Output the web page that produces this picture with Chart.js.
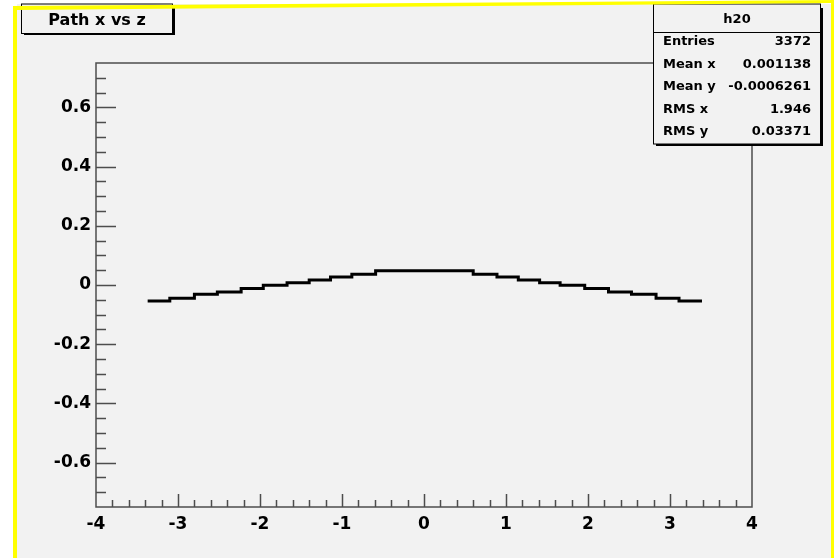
<!DOCTYPE html>
<html>
<head>
<meta charset="utf-8">
<script src="https://cdn.jsdelivr.net/npm/chart.js@4.4.1/dist/chart.umd.min.js"></script>
<style>
  html, body { margin: 0; padding: 0; background: #fff; }
  canvas { display: block; }
</style>
</head>
<body>
<canvas id="c" width="834" height="558"></canvas>
<script>
// z positions where the path changes level, and the x level held on each step
const stepEdges = [-3.37, -3.10, -2.80, -2.52, -2.23, -1.96, -1.67, -1.40, -1.14, -0.88, -0.59,
                   0.60, 0.89, 1.15, 1.41, 1.66, 1.96, 2.25, 2.53, 2.83, 3.11, 3.39];
const stepLevels = [-0.054, -0.045, -0.031, -0.024, -0.012, -0.001, 0.008, 0.017, 0.027, 0.036,
                    0.048, 0.036, 0.027, 0.017, 0.008, -0.001, -0.012, -0.024, -0.031, -0.045, -0.054];

const xTicks = [-4, -3, -2, -1, 0, 1, 2, 3, 4];
const xTickLabels = ['-4', '-3', '-2', '-1', '0', '1', '2', '3', '4'];
const yTicks = [-0.6, -0.4, -0.2, 0, 0.2, 0.4, 0.6];
const yTickLabels = ['-0.6', '-0.4', '-0.2', '0', '0.2', '0.4', '0.6'];

const titleText = 'Path x vs z';
const statsName = 'h20';
const statsLabels = ['Entries', 'Mean x', 'Mean y', 'RMS x', 'RMS y'];
const statsValues = ['3372', '0.001138', '-0.0006261', '1.946', '0.03371'];

// each step level starts at its edge and holds until the next one
const points = stepLevels.map((y, i) => ({x: stepEdges[i], y: y}));
points.push({x: stepEdges[stepEdges.length - 1], y: stepLevels[stepLevels.length - 1]});

const FONT = '"DejaVu Sans", sans-serif';

// ROOT style frame: inward ticks, title box, stats box, yellow border
const rootFrame = {
  id: 'rootFrame',
  beforeDraw(chart) {
    const ctx = chart.ctx;
    ctx.save();
    ctx.fillStyle = '#ffffff';
    ctx.fillRect(0, 0, chart.width, chart.height);
    ctx.fillStyle = '#f2f2f2';
    ctx.fillRect(17, 4, 814, 554);
    ctx.restore();
  },
  afterDraw(chart) {
    const ctx = chart.ctx;
    const a = chart.chartArea;
    const sx = chart.scales.x, sy = chart.scales.y;
    ctx.save();

    ctx.strokeStyle = '#4d4d4d';
    ctx.lineWidth = 1.5;
    ctx.strokeRect(a.left, a.top, a.right - a.left, a.bottom - a.top);

    ctx.beginPath();
    for (let i = -19; i <= 19; i++) {
      const px = Math.round(sx.getPixelForValue(i * 0.2)) + 0.5;
      const len = i % 5 === 0 ? 13 : 7;
      ctx.moveTo(px, a.bottom);
      ctx.lineTo(px, a.bottom - len);
    }
    for (let i = -14; i <= 14; i++) {
      const py = Math.round(sy.getPixelForValue(i * 0.05)) + 0.5;
      const len = i % 4 === 0 ? 20 : 10;
      ctx.moveTo(a.left, py);
      ctx.lineTo(a.left + len, py);
    }
    ctx.stroke();

    // title box
    ctx.fillStyle = '#000';
    ctx.fillRect(24, 8, 151, 27);
    ctx.fillStyle = '#f2f2f2';
    ctx.fillRect(21.5, 4, 151, 29.5);
    ctx.strokeStyle = '#000';
    ctx.lineWidth = 1;
    ctx.strokeRect(21.5, 4, 151, 29.5);
    ctx.fillStyle = '#000';
    ctx.font = 'bold 16px ' + FONT;
    ctx.textAlign = 'center';
    ctx.textBaseline = 'middle';
    ctx.fillText(titleText, 97, 21);

    // stats box
    ctx.fillRect(656, 8, 167, 138);
    ctx.fillStyle = '#f2f2f2';
    ctx.fillRect(653.5, 4, 167, 140);
    ctx.strokeRect(653.5, 4, 167, 140);
    ctx.beginPath();
    ctx.moveTo(653.5, 32.5);
    ctx.lineTo(820.5, 32.5);
    ctx.stroke();
    ctx.fillStyle = '#000';
    ctx.font = 'bold 13px ' + FONT;
    ctx.fillText(statsName, 737, 20);
    statsLabels.forEach((lab, i) => {
      const y = 42 + i * 22.5;
      ctx.textAlign = 'left';
      ctx.fillText(lab, 663, y);
      ctx.textAlign = 'right';
      ctx.fillText(statsValues[i], 811, y);
    });

    // yellow border
    ctx.fillStyle = '#ffff00';
    ctx.beginPath();
    ctx.moveTo(13, 6); ctx.lineTo(834, 0); ctx.lineTo(834, 3); ctx.lineTo(17, 10);
    ctx.lineTo(17, 558); ctx.lineTo(13, 558);
    ctx.closePath();
    ctx.fill();
    ctx.fillRect(831, 0, 3, 558);
    ctx.restore();
  }
};

new Chart(document.getElementById('c'), {
  type: 'scatter',
  data: {
    datasets: [{
      data: points,
      showLine: true,
      stepped: 'before',
      borderColor: '#000',
      borderWidth: 3,
      pointRadius: 0,
      fill: false
    }]
  },
  options: {
    responsive: false,
    animation: false,
    layout: { padding: { left: 0, top: 63, right: 82, bottom: 0 } },
    plugins: { legend: { display: false }, tooltip: { enabled: false } },
    scales: {
      x: {
        type: 'linear',
        min: -4,
        max: 4,
        afterFit: s => { s.height = 51; },
        afterBuildTicks: s => { s.ticks = xTicks.map(v => ({value: v})); },
        grid: { display: false, drawTicks: false },
        border: { display: false },
        ticks: {
          padding: 7,
          color: '#000',
          maxRotation: 0,
          autoSkip: false,
          font: { family: FONT, size: 17, weight: 'bold' },
          callback: (v, i) => xTickLabels[i]
        }
      },
      y: {
        type: 'linear',
        min: -0.75,
        max: 0.75,
        afterFit: s => { s.width = 96; },
        afterBuildTicks: s => { s.ticks = yTicks.map(v => ({value: v})); },
        grid: { display: false, drawTicks: false },
        border: { display: false },
        ticks: {
          padding: 5,
          color: '#000',
          autoSkip: false,
          font: { family: FONT, size: 17, weight: 'bold' },
          callback: (v, i) => yTickLabels[i]
        }
      }
    }
  },
  plugins: [rootFrame]
});
</script>
</body>
</html>
